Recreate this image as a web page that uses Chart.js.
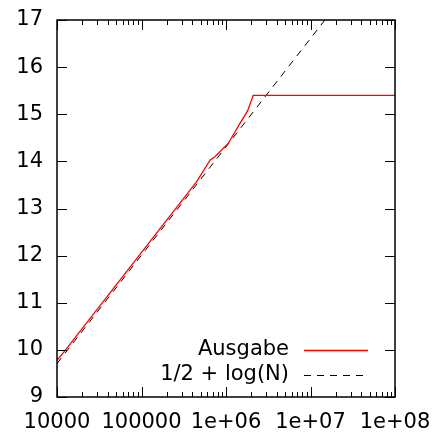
<!DOCTYPE html>
<html>
<head>
<meta charset="utf-8">
<script src="https://cdn.jsdelivr.net/npm/chart.js@4"></script>
<style>
  html, body { margin: 0; padding: 0; background: #fff; }
  #wrap { width: 438px; height: 432px; }
</style>
</head>
<body>
<div id="wrap"><canvas id="chart" width="438" height="432"></canvas></div>
<script>
// Ausgabe (red)
const ausgabeN = [1e4, 1.25e4, 4.5e5, 6.5e5, 7.4e5, 1.06e6, 1.47e6, 1.8e6, 2.1e6, 1e8];
const ausgabeY = [9.78, 9.99, 13.57, 14.03, 14.10, 14.38, 14.81, 15.07, 15.40, 15.40];

// 1/2 + log(N) reference (dashed)
const refN = [1e4, 1.48e7];
const refY = [9.71, 17.0];

const xTickValues = [1e4, 1e5, 1e6, 1e7, 1e8];
const xTickLabels = ['10000', '100000', '1e+06', '1e+07', '1e+08'];
const yMin = 9, yMax = 17;

const FONT = 'DejaVu Sans';

function toPoints(xs, ys) {
    return xs.map((x, i) => ({ x: x, y: ys[i] }));
}

// frame, inward ticks on all sides and the legend in the lower right
const framePlugin = {
    id: 'frame',
    afterDatasetsDraw(chart) {
        const ctx = chart.ctx;
        const a = chart.chartArea;
        const xs = chart.scales.x;
        const ys = chart.scales.y;
        ctx.save();
        ctx.strokeStyle = '#000';
        ctx.lineWidth = 1.5;
        ctx.strokeRect(a.left, a.top, a.right - a.left, a.bottom - a.top);

        ctx.lineWidth = 1;
        ctx.beginPath();
        for (let d = 4; d <= 8; d++) {
            for (let m = 1; m <= 9; m++) {
                const v = m * Math.pow(10, d);
                if (v > 1e8) break;
                const px = Math.round(xs.getPixelForValue(v)) + 0.5;
                const len = m === 1 ? 10 : 5;
                ctx.moveTo(px, a.bottom); ctx.lineTo(px, a.bottom - len);
                ctx.moveTo(px, a.top); ctx.lineTo(px, a.top + len);
            }
        }
        for (let v = yMin; v <= yMax; v++) {
            const py = Math.round(ys.getPixelForValue(v)) + 0.5;
            ctx.moveTo(a.left, py); ctx.lineTo(a.left + 10, py);
            ctx.moveTo(a.right, py); ctx.lineTo(a.right - 10, py);
        }
        ctx.stroke();

        // legend
        ctx.font = '21px "' + FONT + '"';
        ctx.textAlign = 'right';
        ctx.textBaseline = 'middle';
        const rows = [350, 375];
        chart.data.datasets.forEach((ds, i) => {
            const y = rows[i];
            ctx.fillStyle = '#000';
            ctx.fillText(ds.label, 289, y);
            ctx.strokeStyle = ds.borderColor;
            ctx.lineWidth = ds.borderWidth;
            ctx.setLineDash(ds.borderDash || []);
            ctx.beginPath();
            ctx.moveTo(304, y + 0.5);
            ctx.lineTo(i === 0 ? 368 : 364, y + 0.5);
            ctx.stroke();
        });
        ctx.restore();
    }
};

new Chart(document.getElementById('chart'), {
    type: 'line',
    data: {
        datasets: [{
            label: 'Ausgabe',
            data: toPoints(ausgabeN, ausgabeY),
            borderColor: '#ff0000',
            borderWidth: 1.3,
            pointRadius: 0,
            tension: 0,
            fill: false
        }, {
            label: '1/2 + log(N)',
            data: toPoints(refN, refY),
            borderColor: '#000000',
            borderWidth: 1,
            borderDash: [7, 6],
            pointRadius: 0,
            tension: 0,
            fill: false
        }]
    },
    options: {
        responsive: false,
        animation: false,
        layout: { padding: { top: 20, right: 43, left: 0, bottom: 0 } },
        plugins: {
            legend: { display: false },
            tooltip: { enabled: false }
        },
        scales: {
            x: {
                type: 'logarithmic',
                min: 1e4,
                max: 1e8,
                grid: { display: false, drawTicks: false },
                border: { display: false },
                afterBuildTicks: (scale) => {
                    scale.ticks = xTickValues.map(v => ({ value: v }));
                },
                afterFit: (scale) => {
                    scale.height = 35;
                    scale.paddingLeft = 0;
                    scale.paddingRight = 0;
                },
                ticks: {
                    autoSkip: false,
                    maxRotation: 0,
                    padding: 13,
                    color: '#000',
                    font: { family: FONT, size: 21 },
                    callback: (value) => {
                        const i = xTickValues.indexOf(value);
                        return i >= 0 ? xTickLabels[i] : '';
                    }
                }
            },
            y: {
                type: 'linear',
                min: yMin,
                max: yMax,
                grid: { display: false, drawTicks: false },
                border: { display: false },
                afterFit: (scale) => {
                    scale.width = 57;
                    scale.paddingTop = 0;
                    scale.paddingBottom = 0;
                },
                ticks: {
                    stepSize: 1,
                    padding: 14,
                    color: '#000',
                    font: { family: FONT, size: 21 }
                }
            }
        }
    },
    plugins: [framePlugin]
});
</script>
</body>
</html>
